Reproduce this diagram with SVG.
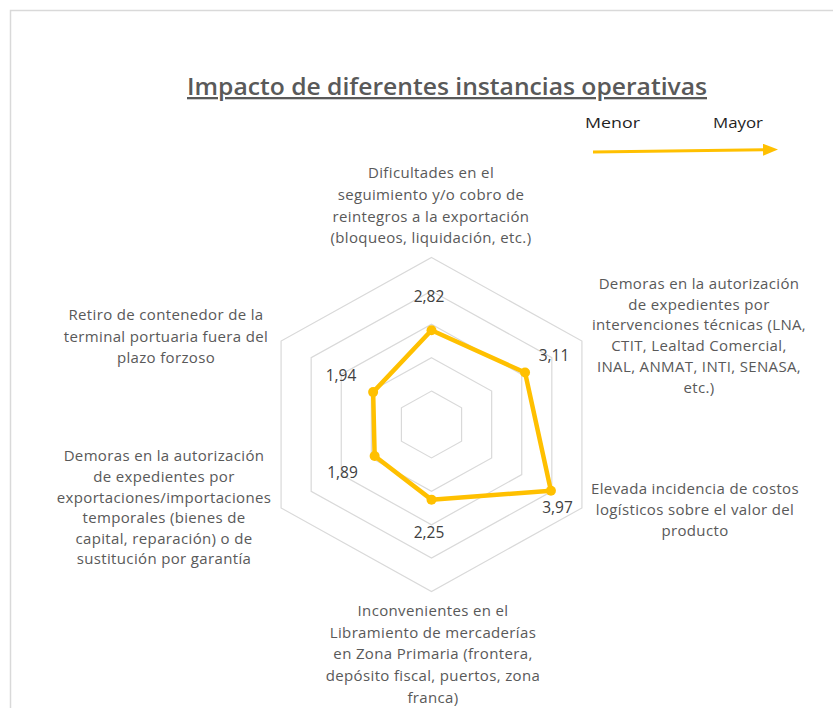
<svg xmlns="http://www.w3.org/2000/svg" width="833" height="708" viewBox="0 0 833 708">
  <style>
    .cat { font-family: "Open Sans", "Liberation Sans", sans-serif; font-size: 15px; letter-spacing: 0.35px; fill: #595959; text-anchor: middle; }
    .val { font-family: "Open Sans", "Liberation Sans", sans-serif; font-size: 15.5px; fill: #404040; text-anchor: middle; }
    .grid { fill: none; stroke: #d9d9d9; stroke-width: 1.2; }
    .series { fill: none; stroke: #FFC000; stroke-width: 4.5; stroke-linejoin: round; }
    .dot { fill: #FFC000; }
    .leg { font-family: "Open Sans", "Liberation Sans", sans-serif; font-size: 15px; fill: #1f1f1f; }
  </style>
  <defs>
    <marker id="arrowhead" markerWidth="5" markerHeight="4" refX="1" refY="2" orient="auto" markerUnits="strokeWidth">
      <path d="M0,0 L5,2 L0,4 Z" fill="#FFC000"/>
    </marker>
  </defs>
  <rect width="833" height="708" fill="#ffffff"/>
  <path d="M10.5,708 V10.5 H833" fill="none" stroke="#d9d9d9" stroke-width="1.5"/>

  <g id="title">
    <text x="187" y="95" font-family="'Open Sans', 'Liberation Sans', sans-serif" font-size="23" font-weight="600" fill="#595959" textLength="520" lengthAdjust="spacingAndGlyphs" text-decoration="underline">Impacto de diferentes instancias operativas</text>
  </g>

  <g id="legend">
    <text class="leg" x="585" y="128" textLength="55" lengthAdjust="spacingAndGlyphs">Menor</text>
    <text class="leg" x="713" y="128" textLength="50" lengthAdjust="spacingAndGlyphs">Mayor</text>
  </g>
  <g id="connectors">
    <line x1="593" y1="152" x2="766" y2="149.6" stroke="#FFC000" stroke-width="3" marker-end="url(#arrowhead)"/>
  </g>

  <g id="grid" transform="translate(431.5,424.5)">
    <polygon class="grid" points="0,-33.4 30.08,-16.7 30.08,16.7 0,33.4 -30.08,16.7 -30.08,-16.7"/>
    <polygon class="grid" points="0,-66.8 60.17,-33.4 60.17,33.4 0,66.8 -60.17,33.4 -60.17,-33.4"/>
    <polygon class="grid" points="0,-100.2 90.25,-50.1 90.25,50.1 0,100.2 -90.25,50.1 -90.25,-50.1"/>
    <polygon class="grid" points="0,-133.6 120.33,-66.8 120.33,66.8 0,133.6 -120.33,66.8 -120.33,-66.8"/>
    <polygon class="grid" points="0,-167 150.42,-83.5 150.42,83.5 0,167 -150.42,83.5 -150.42,-83.5"/>
  </g>

  <g id="series" transform="translate(431.5,424.5)">
    <polygon class="series" points="0,-94.19 93.56,-51.94 119.43,66.3 0,75.15 -56.86,31.56 -58.36,-32.4"/>
    <circle class="dot" cx="0" cy="-94.19" r="5"/>
    <circle class="dot" cx="93.56" cy="-51.94" r="5"/>
    <circle class="dot" cx="119.43" cy="66.3" r="5"/>
    <circle class="dot" cx="0" cy="75.15" r="5"/>
    <circle class="dot" cx="-56.86" cy="31.56" r="5"/>
    <circle class="dot" cx="-58.36" cy="-32.4" r="5"/>
  </g>

  <g id="values">
    <text class="val" x="429" y="302">2,82</text>
    <text class="val" x="554" y="361">3,11</text>
    <text class="val" x="557.5" y="513">3,97</text>
    <text class="val" x="429" y="538">2,25</text>
    <text class="val" x="342.5" y="478">1,89</text>
    <text class="val" x="341" y="381">1,94</text>
  </g>

  <g id="axis-top">
    <text class="cat" x="431" y="178">Dificultades en el</text>
    <text class="cat" x="431" y="200">seguimiento y/o cobro de</text>
    <text class="cat" x="431" y="221.5">reintegros a la exportación</text>
    <text class="cat" x="431" y="243">(bloqueos, liquidación, etc.)</text>
  </g>
  <g id="axis-upper-right">
    <text class="cat" x="699" y="289">Demoras en la autorización</text>
    <text class="cat" x="699" y="309.7">de expedientes por</text>
    <text class="cat" x="699" y="330.4">intervenciones técnicas (LNA,</text>
    <text class="cat" x="699" y="351.1">CTIT, Lealtad Comercial,</text>
    <text class="cat" x="699" y="371.8">INAL, ANMAT, INTI, SENASA,</text>
    <text class="cat" x="699" y="392.5">etc.)</text>
  </g>
  <g id="axis-lower-right">
    <text class="cat" x="695" y="494">Elevada incidencia de costos</text>
    <text class="cat" x="695" y="515">logísticos sobre el valor del</text>
    <text class="cat" x="695" y="536">producto</text>
  </g>
  <g id="axis-bottom">
    <text class="cat" x="433" y="616">Inconvenientes en el</text>
    <text class="cat" x="433" y="637.7">Libramiento de mercaderías</text>
    <text class="cat" x="433" y="659.4">en Zona Primaria (frontera,</text>
    <text class="cat" x="433" y="681.1">depósito fiscal, puertos, zona</text>
    <text class="cat" x="433" y="702.8">franca)</text>
  </g>
  <g id="axis-lower-left">
    <text class="cat" x="164" y="461">Demoras en la autorización</text>
    <text class="cat" x="164" y="481.5">de expedientes por</text>
    <text class="cat" x="164" y="502.5">exportaciones/importaciones</text>
    <text class="cat" x="164" y="523">temporales (bienes de</text>
    <text class="cat" x="164" y="543.5">capital, reparación) o de</text>
    <text class="cat" x="164" y="564">sustitución por garantía</text>
  </g>
  <g id="axis-upper-left">
    <text class="cat" x="166" y="320">Retiro de contenedor de la</text>
    <text class="cat" x="166" y="341.5">terminal portuaria fuera del</text>
    <text class="cat" x="166" y="363">plazo forzoso</text>
  </g>
</svg>
